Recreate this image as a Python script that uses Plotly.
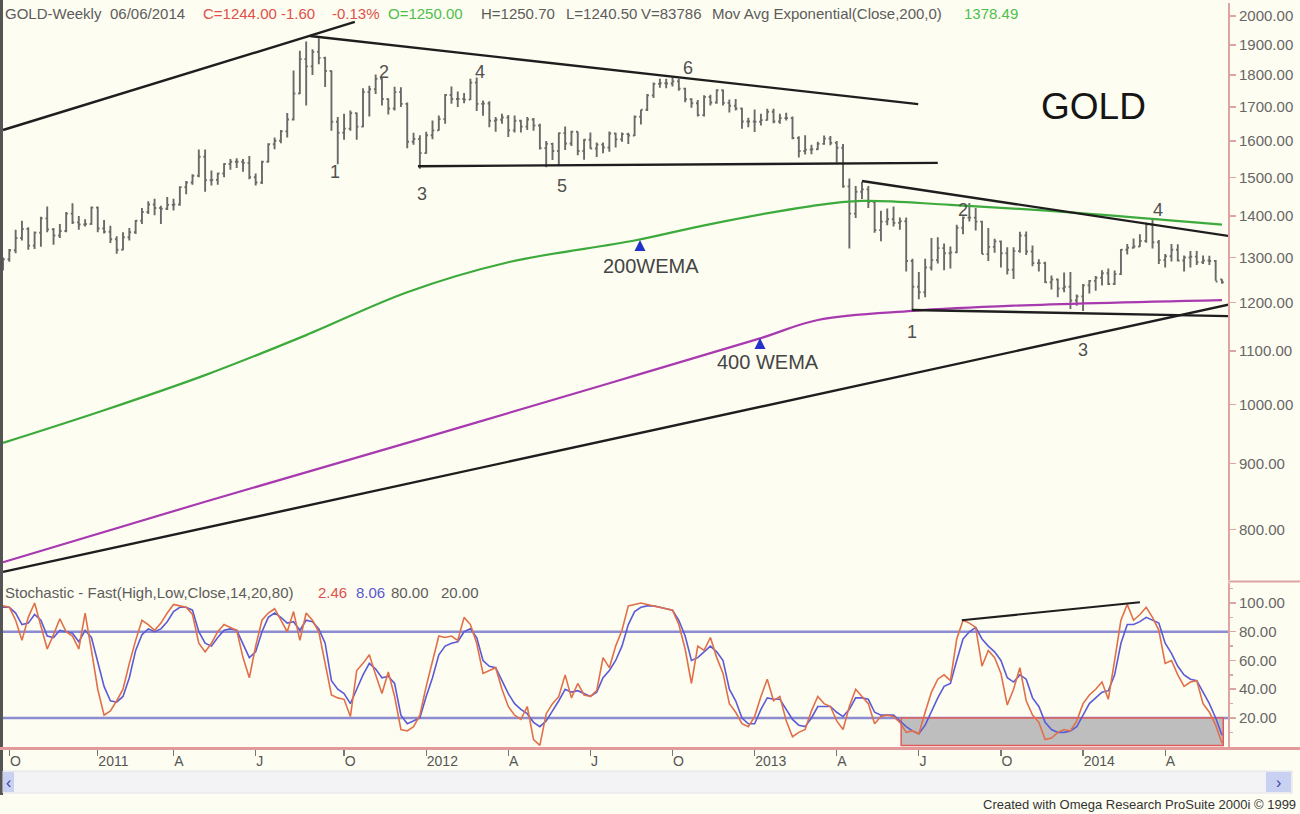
import math
import pandas as pd
import plotly.graph_objects as go

# ---------------- data ----------------
bar_start = "2010-09-24"          # first weekly bar (Friday)
n_bars = 194
dates = pd.date_range(bar_start, periods=n_bars, freq="7D")

opens = [1275,1296,1317,1346,1368,1328,1359,1394,1367,1352,1363,1406,1384,1379,1380,1421,1369,1361,1343,1318,
         1348,1360,1388,1410,1429,1420,1418,1428,1429,1474,1486,1504,1556,1492,1493,1510,1536,1542,1542,1539,
         1500,1486,1542,1591,1601,1628,1663,1742,1852,1828,1876,1856,1813,1656,1624,1636,1682,1642,1746,1755,
         1788,1725,1696,1746,1710,1598,1606,1566,1617,1631,1664,1737,1725,1725,1723,1776,1710,1711,1659,1662,
         1669,1631,1659,1642,1663,1645,1580,1592,1572,1623,1593,1627,1572,1604,1579,1590,1582,1622,1605,1620,
         1616,1671,1692,1736,1772,1774,1773,1780,1757,1724,1712,1676,1731,1714,1752,1713,1704,1696,1657,1657,
         1656,1661,1686,1657,1667,1667,1609,1572,1576,1577,1592,1607,1595,1581,1476,1406,1462,1468,1435,1365,
         1386,1392,1383,1387,1292,1234,1222,1277,1294,1322,1310,1312,1371,1396,1396,1386,1308,1325,1338,1310,
         1272,1315,1352,1314,1287,1287,1244,1250,1230,1234,1204,1213,1237,1247,1254,1264,1240,1262,1318,1323,
         1326,1339,1379,1336,1294,1303,1318,1293,1300,1302,1289,1293,1292,1250]
highs = [1300,1320,1366,1388,1372,1362,1398,1424,1370,1380,1410,1432,1400,1392,1424,1424,1390,1376,1350,1360,
         1370,1390,1420,1437,1444,1426,1448,1444,1476,1490,1508,1576,1576,1518,1512,1538,1550,1552,1550,1558,
         1510,1545,1594,1610,1632,1682,1815,1880,1911,1885,1922,1860,1815,1670,1680,1690,1684,1758,1766,1802,
         1792,1726,1763,1761,1714,1624,1617,1627,1660,1675,1740,1764,1748,1743,1788,1792,1720,1718,1670,1680,
         1676,1675,1662,1670,1667,1650,1600,1595,1625,1642,1630,1628,1606,1625,1596,1596,1628,1624,1625,1624,
         1675,1692,1740,1776,1788,1788,1796,1788,1760,1727,1722,1736,1738,1755,1754,1723,1725,1698,1668,1693,
         1680,1695,1695,1680,1683,1672,1614,1617,1590,1598,1616,1615,1600,1592,1497,1477,1488,1477,1440,1413,
         1419,1424,1396,1396,1297,1267,1297,1346,1348,1333,1326,1378,1399,1433,1420,1388,1370,1344,1340,1324,
         1324,1361,1362,1328,1296,1290,1259,1252,1266,1267,1217,1240,1249,1258,1271,1275,1270,1320,1332,1345,
         1355,1383,1392,1341,1308,1332,1331,1305,1315,1315,1305,1304,1294,1250.7]
lows = [1270,1290,1310,1340,1318,1320,1325,1360,1330,1346,1360,1380,1366,1374,1378,1360,1357,1334,1309,1317,
        1340,1356,1380,1405,1402,1380,1415,1414,1426,1455,1480,1500,1462,1478,1480,1500,1520,1525,1515,1495,
        1478,1482,1540,1577,1594,1610,1660,1740,1705,1800,1835,1762,1630,1535,1604,1630,1604,1640,1672,1740,
        1705,1678,1690,1700,1580,1590,1523,1564,1605,1630,1650,1710,1700,1712,1722,1688,1674,1640,1627,1650,
        1612,1625,1625,1632,1630,1576,1527,1547,1532,1575,1586,1560,1548,1578,1555,1566,1570,1582,1598,1592,
        1615,1648,1688,1728,1760,1758,1764,1750,1715,1698,1672,1672,1705,1710,1705,1684,1690,1636,1640,1626,
        1645,1660,1652,1650,1660,1605,1554,1562,1563,1575,1590,1588,1540,1472,1321,1395,1443,1420,1359,1338,
        1377,1374,1366,1268,1180,1207,1211,1270,1286,1271,1275,1310,1355,1386,1364,1308,1292,1311,1277,1261,
        1251,1311,1306,1280,1268,1242,1228,1211,1222,1186,1193,1182,1219,1225,1237,1238,1238,1260,1307,1321,
        1325,1335,1321,1285,1277,1291,1291,1268,1277,1283,1285,1283,1247,1240.5]
closes = [1296,1317,1346,1368,1328,1359,1394,1367,1352,1363,1406,1384,1379,1380,1421,1369,1361,1343,1318,1348,
          1360,1388,1410,1429,1420,1418,1428,1429,1474,1486,1504,1556,1492,1493,1510,1536,1542,1542,1539,1500,
          1486,1542,1591,1601,1628,1663,1742,1852,1828,1876,1856,1813,1656,1624,1636,1682,1642,1746,1755,1788,
          1725,1696,1746,1710,1598,1606,1566,1617,1631,1664,1737,1725,1725,1723,1776,1710,1711,1659,1662,1669,
          1631,1659,1642,1663,1645,1580,1592,1572,1623,1593,1627,1572,1604,1579,1590,1582,1622,1605,1620,1616,
          1671,1692,1736,1772,1774,1773,1780,1757,1724,1712,1676,1731,1714,1752,1713,1704,1696,1657,1657,1656,
          1661,1686,1657,1667,1667,1609,1572,1576,1577,1592,1607,1595,1581,1476,1406,1462,1468,1435,1365,1386,
          1392,1383,1387,1292,1234,1222,1277,1294,1322,1310,1312,1371,1396,1396,1386,1308,1325,1338,1310,1272,
          1315,1352,1314,1287,1287,1244,1250,1230,1234,1204,1213,1237,1247,1254,1264,1240,1262,1318,1323,1326,
          1339,1379,1336,1294,1303,1318,1293,1300,1302,1289,1293,1292,1245.6,1244]

# exponential moving averages at these bar numbers
ema200_bars = [0, 16, 32, 48, 64, 80, 100, 112, 128, 136, 150, 170, 193]
ema200_vals = [934, 990, 1054, 1132, 1222, 1289, 1340, 1380, 1425, 1438, 1428, 1408, 1378.49]
ema400_bars = [0, 32, 64, 96, 120, 129, 144, 160, 193]
ema400_vals = [755, 841, 934, 1039, 1126, 1163, 1182, 1193, 1205]

# stochastic fast %K (red) and %D (blue)
stoch_k = [98,97,88,74,90,100,84,68,78,89,80,77,68,93,67,40,22,25,32,40,
           58,74,88,85,81,86,93,99,98,97,92,72,66,72,80,85,83,81,62,48,
           70,88,93,96,88,80,94,74,93,88,80,58,36,34,33,21,53,58,64,50,
           37,52,35,12,11,14,22,42,60,77,76,77,74,90,85,72,51,53,55,40,
           28,22,19,28,5,1,23,30,35,50,34,44,36,35,39,62,55,70,81,98,
           99,100,99,98,97,96,95,85,68,44,70,67,76,62,51,30,24,16,14,21,
           35,47,32,35,18,7,10,12,25,35,30,28,18,12,28,40,35,30,16,21,
           22,21,17,10,11,9,24,38,47,50,46,75,88,86,83,56,67,62,51,29,
           40,55,32,22,17,5,6,10,12,11,18,30,36,40,45,33,60,88,99,88,
           92,97,90,81,58,60,50,42,45,46,30,24,15,2.46]
stoch_d = [97,97,93,85,86,92,88,77,76,81,80,79,73,81,76,58,42,32,31,35,
           48,67,78,82,80,82,87,94,97,97,95,80,72,70,76,81,82,81,72,62,
           66,80,90,93,90,86,87,81,88,87,82,72,46,40,37,30,40,50,58,54,
           48,49,44,22,16,18,20,35,48,64,70,72,73,80,82,76,60,56,55,46,
           37,30,26,23,17,14,18,25,32,40,38,39,37,35,38,48,53,60,70,85,
           94,97,98,98,97,96,95,88,77,60,62,66,70,66,60,40,32,20,16,16,
           26,34,33,33,26,19,15,14,20,28,28,28,24,21,26,34,34,33,24,22,
           22,22,18,14,11,9,15,25,34,42,44,60,75,80,83,75,70,66,60,48,
           45,50,47,34,28,17,12,10,10,11,14,22,30,34,38,39,50,72,85,85,
           87,90,88,86,72,65,56,50,47,46,38,30,20,8.06]

# trend lines: (bar number, price) endpoints
trend_lines = [
    [(0, 1632), (55.7, 1979)],
    [(48.6, 1930), (144.9, 1709)],
    [(65.7, 1530), (148, 1539)],
    [(136, 1490), (194, 1351)],
    [(143.9, 1184), (194, 1171)],
    [(0, 742), (194, 1195)],
]
stoch_line = [(151.8, 88), (180, 100.5)]
oversold_box = [(142.2, 0.8), (193.2, 20)]

price_ticks = [800, 900, 1000, 1100, 1200, 1300, 1400, 1500, 1600, 1700, 1800, 1900, 2000]
stoch_ticks = [20, 40, 60, 80, 100]
date_ticks = ["2010-10-01", "2011-01-07", "2011-04-01", "2011-07-01", "2011-10-07", "2012-01-06",
              "2012-04-06", "2012-07-06", "2012-10-05", "2013-01-04", "2013-04-05", "2013-07-05",
              "2013-10-04", "2014-01-03", "2014-04-04"]
date_labels = ["O", "2011", "A", "J", "O", "2012", "A", "J", "O", "2013", "A", "J", "O", "2014", "A"]

# ---------------- helpers ----------------
W, H = 1300, 814
t0 = pd.Timestamp(bar_start)


def bar_date(i):
    return t0 + pd.Timedelta(days=7 * i)


def px(x):
    return x / W


def py(y):
    return 1 - y / H


FONT = "Liberation Sans, Arial, sans-serif"
BG = "#FEFDF1"
GRAY = "#5c5c5c"
PINK = "#DEA3A3"

fig = go.Figure()

fig.add_trace(go.Ohlc(
    x=dates, open=opens, high=highs, low=lows, close=closes,
    increasing=dict(line=dict(color="#6a6a6a", width=1.9)),
    decreasing=dict(line=dict(color="#6a6a6a", width=1.9)),
    tickwidth=0.28, xaxis="x", yaxis="y", showlegend=False, hoverinfo="skip"))

fig.add_trace(go.Scatter(
    x=[bar_date(i) for i in ema200_bars], y=ema200_vals, mode="lines",
    line=dict(color="#3DAA3D", width=2.2, shape="spline"), xaxis="x", yaxis="y", showlegend=False))
fig.add_trace(go.Scatter(
    x=[bar_date(i) for i in ema400_bars], y=ema400_vals, mode="lines",
    line=dict(color="#A83AB0", width=2.2, shape="spline"), xaxis="x", yaxis="y", showlegend=False))

for seg in trend_lines:
    fig.add_trace(go.Scatter(
        x=[bar_date(p[0]) for p in seg], y=[p[1] for p in seg], mode="lines",
        line=dict(color="#1e1e1e", width=2.4), xaxis="x", yaxis="y", showlegend=False))

# stochastic panel
fig.add_trace(go.Scatter(x=dates, y=stoch_d, mode="lines", line=dict(color="#5B5BD6", width=1.6),
                         xaxis="x2", yaxis="y2", showlegend=False))
fig.add_trace(go.Scatter(x=dates, y=stoch_k, mode="lines", line=dict(color="#E0704A", width=1.6),
                         xaxis="x2", yaxis="y2", showlegend=False))
fig.add_trace(go.Scatter(x=[bar_date(p[0]) for p in stoch_line], y=[p[1] for p in stoch_line],
                         mode="lines", line=dict(color="#1e1e1e", width=2.2),
                         xaxis="x2", yaxis="y2", showlegend=False))

shapes = []
# over-sold box
shapes.append(dict(type="rect", xref="x2", yref="y2",
                   x0=bar_date(oversold_box[0][0]), x1=bar_date(oversold_box[1][0]),
                   y0=oversold_box[0][1], y1=oversold_box[1][1],
                   fillcolor="#BEBEBE", line=dict(color="#E05A5A", width=1.5), layer="below"))
for lvl in (80, 20):
    shapes.append(dict(type="line", xref="x2 domain", yref="y2", x0=0, x1=1, y0=lvl, y1=lvl,
                       line=dict(color="#8C8CD0", width=2.5), layer="below"))
# frame pieces
shapes += [
    dict(type="line", xref="paper", yref="paper", x0=px(1.5), x1=px(1.5), y0=py(0), y1=py(795),
         line=dict(color="#555555", width=3)),
    dict(type="line", xref="paper", yref="paper", x0=px(1228), x1=px(1300), y0=py(581.5), y1=py(581.5),
         line=dict(color=PINK, width=2)),
    dict(type="line", xref="paper", yref="paper", x0=0, x1=px(1300), y0=py(748.5), y1=py(748.5),
         line=dict(color="#E39A9A", width=3)),
    # scroll bar
    dict(type="rect", xref="paper", yref="paper", x0=px(3), x1=px(1292), y0=py(793), y1=py(771),
         fillcolor="#F3F3F6", line=dict(color="#E2E2EA", width=1)),
    dict(type="rect", xref="paper", yref="paper", x0=px(3), x1=px(14), y0=py(792), y1=py(772),
         fillcolor="#C9D1F2", line=dict(width=0)),
    dict(type="rect", xref="paper", yref="paper", x0=px(1266), x1=px(1291), y0=py(792), y1=py(772),
         fillcolor="#C9D1F2", line=dict(width=0)),
]

ann = []


def txt(x, y, s, size=15, color=GRAY, anchor="left"):
    ann.append(dict(x=px(x), y=py(y), xref="paper", yref="paper", text=s, showarrow=False,
                    xanchor=anchor, yanchor="middle", font=dict(family=FONT, size=size, color=color)))


RED = "#E0504A"
GRN = "#4CC04C"
BLU = "#5858D0"
# header
txt(3, 14, "GOLD-Weekly")
txt(108, 14, "06/06/2014")
txt(201, 14, "C=1244.00", color=RED)
txt(279, 14, "-1.60", color=RED)
txt(330, 14, "-0.13%", color=RED)
txt(386, 14, "O=1250.00", color=GRN)
txt(479, 14, "H=1250.70")
txt(564, 14, "L=1240.50")
txt(639, 14, "V=83786")
txt(710, 14, "Mov Avg Exponential(Close,200,0)")
txt(962, 14, "1378.49", color=GRN)
# stochastic header
txt(3, 592, "Stochastic - Fast(High,Low,Close,14,20,80)")
txt(316, 592, "2.46", color=RED)
txt(354, 592, "8.06", color=BLU)
txt(389, 592, "80.00")
txt(439, 592, "20.00")

# wave labels
for (x, y, s) in [(335, 172, "1"), (384, 72, "2"), (422, 194, "3"), (480, 72, "4"), (562, 186, "5"),
                  (688, 68, "6"), (912, 332, "1"), (963, 210, "2"), (1083, 350, "3"), (1158, 210, "4")]:
    txt(x, y, s, size=18, color="#505050", anchor="center")

txt(1093, 107, "GOLD", size=37, color="#151515", anchor="center")
txt(651, 266, "200WEMA", size=20, color="#454545", anchor="center")
txt(768, 362, "400 WEMA", size=20, color="#454545", anchor="center")
txt(1298, 804, "Created with Omega Research ProSuite 2000i © 1999", size=13, color="#333333",
    anchor="right")
txt(8.5, 782, "‹", size=16, color="#3344AA", anchor="center")
txt(1278, 782, "›", size=16, color="#3344AA", anchor="center")

for (x, y) in [(640, 240), (760, 338)]:
    ann.append(dict(x=px(x), y=py(y), xref="paper", yref="paper", ax=0, ay=9, axref="pixel",
                    ayref="pixel", text="", showarrow=True, arrowhead=2, arrowsize=1.1,
                    arrowwidth=2, arrowcolor="#2233CC"))

x_left = bar_date(-0.16)
x_right = bar_date(193.95)
top_px, bot_px = 3, 580
p_per_px = 1291.0
log_top = math.log10(2000) + (16 - top_px) / p_per_px
log_bot = math.log10(2000) - (bot_px - 16) / p_per_px

fig.update_layout(
    width=W, height=H, margin=dict(l=0, r=0, t=0, b=0, autoexpand=False),
    paper_bgcolor=BG, plot_bgcolor=BG, showlegend=False,
    font=dict(family=FONT, size=15, color=GRAY),
    xaxis=dict(domain=[px(2), px(1228)], anchor="y", range=[x_left, x_right], showticklabels=False,
               showgrid=False, zeroline=False, rangeslider=dict(visible=False), ticks=""),
    yaxis=dict(domain=[py(bot_px), py(top_px)], anchor="x", side="right", type="log",
               range=[log_bot, log_top], tickvals=price_ticks,
               ticktext=[f"{v:.2f}" for v in price_ticks], ticks="outside", ticklen=6,
               tickcolor=PINK, tickwidth=1.5, showline=True, linecolor=PINK, linewidth=2,
               showgrid=False, zeroline=False, tickfont=dict(size=15, color="#666666")),
    xaxis2=dict(domain=[px(2), px(1228)], anchor="y2", matches="x", range=[x_left, x_right],
                tickvals=date_ticks, ticktext=date_labels, ticks="outside", ticklen=7,
                tickcolor="#777777", tickwidth=1.2, ticklabelposition="outside right",
                showgrid=False, zeroline=False, showline=False,
                tickfont=dict(size=14, color="#555555")),
    yaxis2=dict(domain=[py(748), py(583)], anchor="x2", side="right",
                range=[-0.87, 113.9], tickvals=stoch_ticks,
                ticktext=[f"{v:.2f}" for v in stoch_ticks], ticks="outside", ticklen=6,
                tickcolor=PINK, tickwidth=1.5, showline=True, linecolor=PINK, linewidth=2,
                showgrid=False, zeroline=False, tickfont=dict(size=15, color="#666666"),
                minor=dict(tickvals=[10, 30, 50, 70, 90, 110], ticks="outside", ticklen=3,
                           tickcolor=PINK)),
    shapes=shapes, annotations=ann,
)

fig.write_html("out.html", config={"displayModeBar": False, "staticPlot": True},
               post_script="document.body.style.margin='0px';document.body.style.overflow='hidden';")
